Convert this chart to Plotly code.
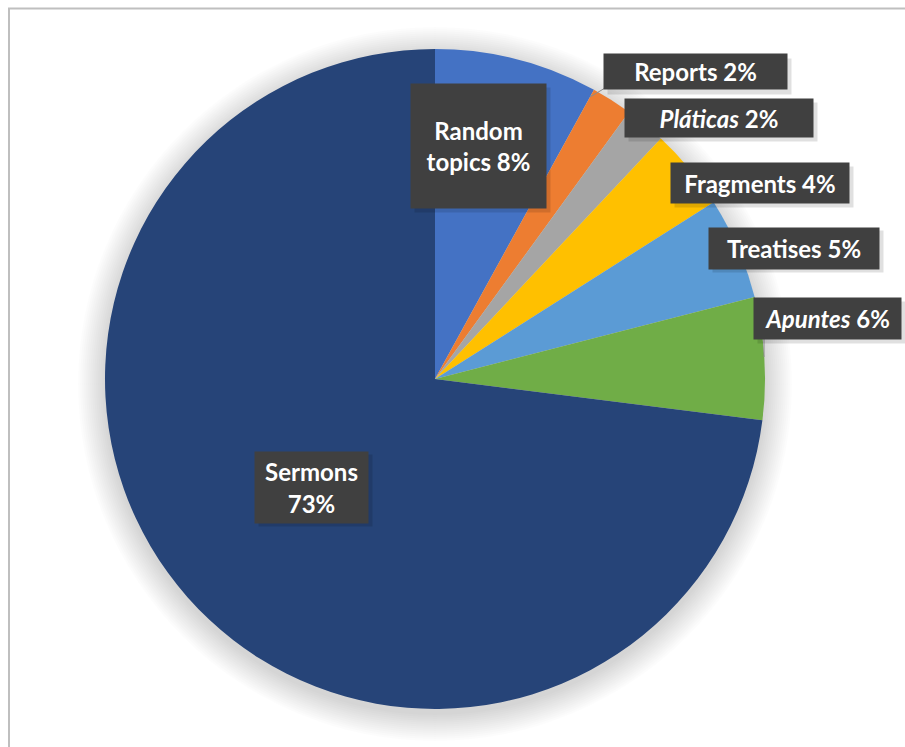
import plotly.graph_objects as go

W, H = 905, 747

categories = ["Random topics", "Reports", "Pláticas", "Fragments", "Treatises", "Apuntes", "Sermons"]
values = [8, 2, 2, 4, 5, 6, 73]
label_texts = ["Random<br>topics 8%", "Reports 2%", "<i>Pláticas</i> 2%", "Fragments 4%",
               "Treatises 5%", "<i>Apuntes</i> 6%", "Sermons<br>73%"]
colors = ["#4472C4", "#ED7D31", "#A5A5A5", "#FFC000", "#5B9BD5", "#70AD47", "#264478"]

# label box centres (pixels) and sizes
label_pos = [(478, 146), (695, 72), (719, 118), (760, 183), (794, 248), (827, 318), (311, 487)]
label_w = [135, 183, 188, 178, 170, 147, 113]
label_h = [124, 35, 38, 40, 41, 41, 71]

cx, cy, R = 435, 379, 330

def px(x):
    return x / W

def py(y):
    return 1 - y / H

fig = go.Figure()
fig.add_trace(go.Pie(
    labels=categories, values=values, sort=False, direction="clockwise", rotation=0,
    marker=dict(colors=colors, line=dict(width=0)),
    textinfo="none", hoverinfo="label+percent", showlegend=False,
    domain=dict(x=[px(cx - R), px(cx + R)], y=[py(cy + R), py(cy - R)]),
))

shapes = []
# soft shadow around the pie
for i in range(14):
    r = R + 1 + i * 2
    oy = 5
    shapes.append(dict(type="circle", xref="paper", yref="paper", layer="below",
                       x0=px(cx - r), x1=px(cx + r), y0=py(cy + oy + r), y1=py(cy + oy - r),
                       fillcolor="rgba(0,0,0,0.011)", line=dict(width=0)))
# frame
shapes.append(dict(type="rect", xref="paper", yref="paper", layer="below",
                   x0=px(9), x1=1.05, y0=-0.05, y1=py(8.5),
                   line=dict(color="#BFBFBF", width=2), fillcolor="rgba(0,0,0,0)"))
# leader lines
shapes.append(dict(type="line", xref="paper", yref="paper", x0=px(590), y0=py(97), x1=px(605), y1=py(88),
                   line=dict(color="#8C8C8C", width=1)))
shapes.append(dict(type="line", xref="paper", yref="paper", x0=px(764), y0=py(339), x1=px(764), y1=py(357),
                   line=dict(color="#8C8C8C", width=1)))

annotations = []
for (x, y), t, w, h in zip(label_pos, label_texts, label_w, label_h):
    # shadow
    annotations.append(dict(x=px(x + 4), y=py(y + 4), xref="paper", yref="paper", text=" ",
                            xanchor="center", yanchor="middle",
                            showarrow=False, width=w, height=h, bgcolor="rgba(0,0,0,0.12)",
                            borderpad=0, font=dict(size=2)))
    annotations.append(dict(x=px(x), y=py(y), xref="paper", yref="paper", text="<b>" + t + "</b>",
                            xanchor="center", yanchor="middle",
                            showarrow=False, width=w, height=h, bgcolor="#404040",
                            borderpad=0, align="center", valign="middle",
                            font=dict(family="Lato, Open Sans, sans-serif", size=24, color="white")))

fig.update_layout(width=W, height=H, margin=dict(l=0, r=0, t=0, b=0),
                  paper_bgcolor="white", plot_bgcolor="white",
                  shapes=shapes, annotations=annotations)

fig.write_html("out.html")
